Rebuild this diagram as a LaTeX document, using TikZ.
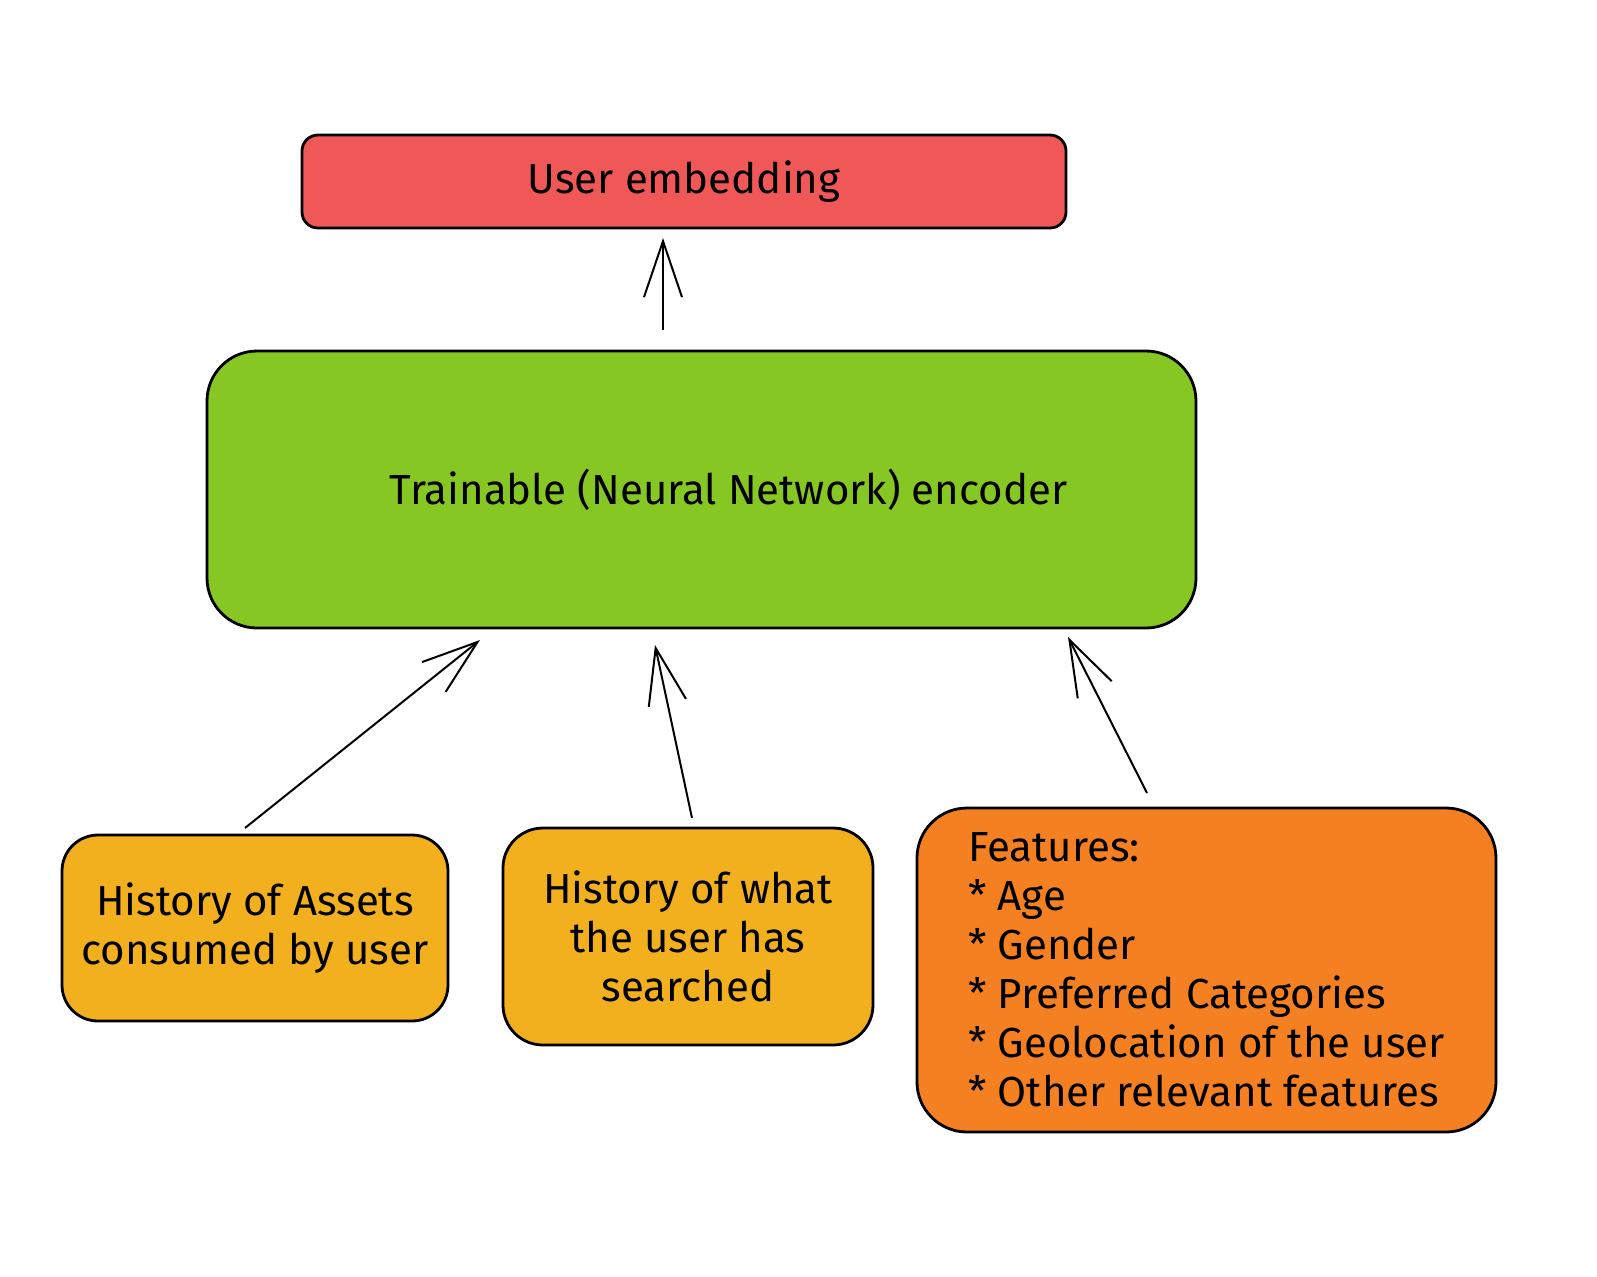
\documentclass[tikz,border=0pt]{standalone}
\usepackage{fontspec}
\setmainfont{Fira Sans}
\usetikzlibrary{arrows.meta}
\definecolor{cred}{HTML}{F05858}
\definecolor{cgreen}{HTML}{86C724}
\definecolor{cyellow}{HTML}{F2B01E}
\definecolor{corange}{HTML}{F48022}
\begin{document}
\begin{tikzpicture}[x=0.5pt,y=-0.5pt,
  box/.style={draw=black, line width=1.4pt, rounded corners=#1, inner sep=0pt,
    font=\fontsize{21pt}{24.5pt}\selectfont},
  conn/.style={draw=black, line width=1pt, -{Straight Barb[length=28pt,width=19pt,line width=1pt]}}]
\useasboundingbox (0,0) rectangle (1597,1276);
\node[box=8pt, fill=cred, minimum width=382pt, minimum height=46.5pt] (emb) at (684,181.5) {User embedding};
\node[box=25pt, fill=cgreen, minimum width=494.5pt, minimum height=138.5pt] (enc) at (701.5,489.5) {\hspace*{27pt}Trainable (Neural Network) encoder};
\node[box=18pt, fill=cyellow, minimum width=193pt, minimum height=93pt, align=center] (hist) at (255,928) {History of Assets\\consumed by user};
\node[box=20pt, fill=cyellow, minimum width=185pt, minimum height=108.5pt, align=center] (srch) at (688,936.5) {History of what\\the user has\\searched};
\node[box=25pt, fill=corange, minimum width=289.5pt, minimum height=162pt, align=left] (feat) at (1206.5,970) {Features:\\* Age\\* Gender\\* Preferred Categories\\* Geolocation of the user\\* Other relevant features};
\coordinate (a0s) at (663,330);
\coordinate (a0e) at (663,238);
\coordinate (a1s) at (245,828);
\coordinate (a1e) at (480,640);
\coordinate (a2s) at (692,818);
\coordinate (a2e) at (655,645);
\coordinate (a3s) at (1147,793);
\coordinate (a3e) at (1068,637);
\draw[conn] (a0s) -- (a0e);
\draw[conn] (a1s) -- (a1e);
\draw[conn] (a2s) -- (a2e);
\draw[conn] (a3s) -- (a3e);
\end{tikzpicture}
\end{document}
